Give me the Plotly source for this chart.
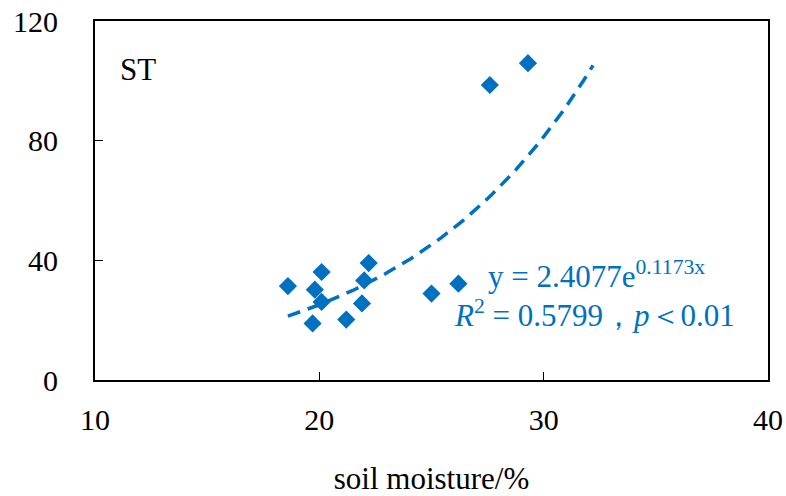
import numpy as np
import plotly.graph_objects as go

soil_moisture = [18.6, 19.8, 20.1, 20.1, 19.7, 21.2, 21.9, 22.0, 22.2, 25.0, 26.2, 27.6, 29.3]
st_values = [31.4, 30.2, 36.1, 26.1, 18.9, 20.2, 25.6, 33.3, 39.1, 28.9, 32.2, 98.6, 105.9]
fit_a, fit_b = 2.4077, 0.1173
fit_range = [18.6, 32.2]

fx = np.linspace(fit_range[0], fit_range[1], 100)
fy = fit_a * np.exp(fit_b * fx)

blue = "#0070C0"
font = "Liberation Serif"

fig = go.Figure()
fig.add_trace(go.Scatter(x=fx, y=fy, mode="lines",
                         line=dict(color=blue, width=3.5, dash="13px,8px"),
                         hoverinfo="skip", showlegend=False))
fig.add_trace(go.Scatter(x=soil_moisture, y=st_values, mode="markers",
                         marker=dict(symbol="diamond", size=14, color=blue),
                         showlegend=False))

fig.update_layout(
    width=786, height=496,
    margin=dict(l=95, r=18, t=21, b=116),
    paper_bgcolor="white", plot_bgcolor="white",
    font=dict(family=font, size=30, color="black"),
    xaxis=dict(range=[10, 40], tickvals=[10, 20, 30, 40], showgrid=False, zeroline=False,
               showline=True, mirror=True, linecolor="black", linewidth=2,
               ticks="inside", ticklen=8, tickcolor="black", tickwidth=1,
               tickfont=dict(family=font, size=30), automargin=False,
               ticklabelstandoff=12,
               title=dict(text="soil moisture/%", standoff=38, font=dict(family=font, size=31))),
    yaxis=dict(range=[0, 120], tickvals=[0, 40, 80, 120], showgrid=False, zeroline=False,
               showline=True, mirror=True, linecolor="black", linewidth=2,
               ticks="inside", ticklen=8, tickcolor="black", tickwidth=1,
               tickfont=dict(family=font, size=30), automargin=False,
               ticklabelstandoff=29),
)
fig.add_annotation(x=(118 - 95) / 673, y=(380 - 69) / 359, xref="paper", yref="paper", text="ST", showarrow=False,
                   xanchor="left", yanchor="middle", font=dict(size=31, family=font))
fig.add_annotation(x=(486 - 95) / 673, y=(380 - 274) / 359, xref="paper", yref="paper",
                   text="y = 2.4077e<sup>0.1173x</sup>", showarrow=False,
                   xanchor="left", yanchor="middle", font=dict(size=31, color=blue, family=font))
fig.add_annotation(x=(452 - 95) / 673, y=(380 - 313) / 359, xref="paper", yref="paper",
                   text="<i>R</i><sup>2</sup> = 0.5799，<i>p</i>＜0.01", showarrow=False,
                   xanchor="left", yanchor="middle", font=dict(size=31, color=blue, family=font))

fig.write_html("out.html")
